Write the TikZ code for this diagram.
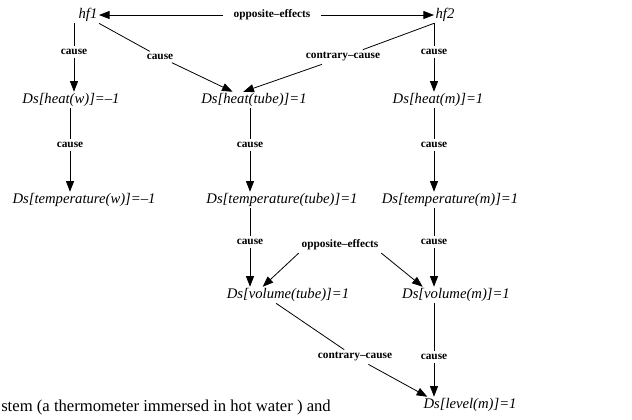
\documentclass[tikz,border=0pt]{standalone}
\usepackage{fontspec}
\setmainfont{Liberation Serif}
\usepackage{tikz}
\usetikzlibrary{arrows.meta,positioning}

\begin{document}
\begin{tikzpicture}
	[state/.style={font=\itshape\fontsize{11}{13}\selectfont,inner sep=1pt},
	rel/.style={font=\bfseries\fontsize{8.5}{10}\selectfont,inner sep=2pt},
	link/.style={black,line width=0.6pt},
	arr/.style={link,-{Triangle[length=8pt,width=6pt]}},
	x=0.75pt,y=-0.75pt]
	\useasboundingbox (0,0) rectangle (632,419);

	%estados
	\node[state] (hfa) at (88,15) {hf1};
	\node[state] (hfb) at (445,15) {hf2};
	\node[state] (heatw) at (71,100) {Ds[heat(w)]=--1};
	\node[state] (heattube) at (254,100) {Ds[heat(tube)]=1};
	\node[state] (heatm) at (438,100) {Ds[heat(m)]=1};
	\node[state] (tempw) at (84,200) {Ds[temperature(w)]=--1};
	\node[state] (temptube) at (282,200) {Ds[temperature(tube)]=1};
	\node[state] (tempm) at (450,200) {Ds[temperature(m)]=1};
	\node[state] (voltube) at (288,295) {Ds[volume(tube)]=1};
	\node[state] (volm) at (456,295) {Ds[volume(m)]=1};
	\node[state] (levelm) at (470,405) {Ds[level(m)]=1};

	%relaciones
	\node[rel,inner xsep=8pt] (oea) at (272,15) {opposite--effects};
	\node[rel] (ca) at (74,52) {cause};
	\node[rel] (cb) at (160,57) {cause};
	\node[rel] (cra) at (343,57) {contrary--cause};
	\node[rel] (cc) at (434,52) {cause};
	\node[rel] (cd) at (70,145) {cause};
	\node[rel] (ce) at (250,145) {cause};
	\node[rel] (cf) at (434,145) {cause};
	\node[rel] (cg) at (250,242) {cause};
	\node[rel] (ch) at (434,242) {cause};
	\node[rel] (oeb) at (340,245) {opposite--effects};
	\node[rel] (crb) at (355,357) {contrary--cause};
	\node[rel] (ci) at (434,357) {cause};

	\draw[arr] (oea) -- (hfa);
	\draw[arr] (oea) -- (hfb);
	\draw[link] (ca |- hfa.south) -- (ca);
	\draw[arr] (ca) -- (ca |- heatw.north);
	\draw[link] (hfa.south east) -- (cb);
	\draw[arr] (cb) -- ([xshift=-16pt]heattube.north);
	\draw[link] (hfb.south west) -- (cra);
	\draw[arr] (cra) -- ([xshift=-8pt]heattube.north);
	\draw[link] (cc |- hfb.south) -- (cc);
	\draw[arr] (cc) -- (cc |- heatm.north);

	\draw[link] (cd |- heatw.south) -- (cd);
	\draw[arr] (cd) -- (cd |- tempw.north);
	\draw[link] (ce |- heattube.south) -- (ce);
	\draw[arr] (ce) -- (ce |- temptube.north);
	\draw[link] (cf |- heatm.south) -- (cf);
	\draw[arr] (cf) -- (cf |- tempm.north);

	\draw[link] (cg |- temptube.south) -- (cg);
	\draw[arr] (cg) -- (cg |- voltube.north);
	\draw[link] (ch |- tempm.south) -- (ch);
	\draw[arr] (ch) -- (ch |- volm.north);
	\draw[arr] (oeb.south west) -- ([xshift=-19pt]voltube.north);
	\draw[arr] (oeb.south east) -- ([xshift=-25pt]volm.north);

	\draw[link] ([xshift=-9pt]voltube.south) -- (crb);
	\draw[arr] (crb) -- ([xshift=-32pt]levelm.north);
	\draw[link] (ci |- volm.south) -- (ci);
	\draw[arr] (ci) -- (ci |- levelm.north);

	%texto
	\node[anchor=base west,inner sep=0pt,font=\fontsize{12.5}{15}\selectfont] (cap) at (1,411) {stem (a thermometer immersed in hot water ) and};
\end{tikzpicture}
\end{document}
